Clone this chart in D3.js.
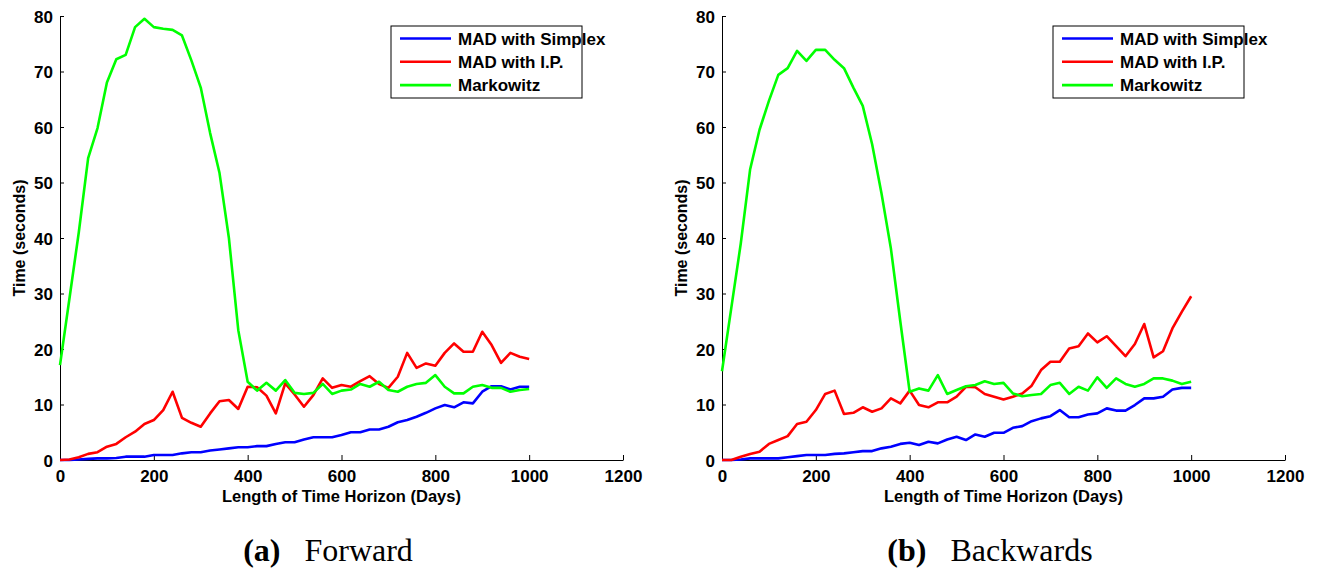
<!DOCTYPE html>
<html>
<head>
<meta charset="utf-8">
<script src="https://cdn.jsdelivr.net/npm/d3@7"></script>
<style>
body { margin: 0; background: #fff; }
.tick text { font-family: "Liberation Sans", Arial, sans-serif; font-weight: bold; font-size: 17px; fill: #000; }
</style>
</head>
<body>
<div id="chart"></div>
<script>
// horizon lengths (days)
const days = [0,20,40,60,80,100,120,140,160,180,200,220,240,260,280,300,320,340,360,380,
  400,420,440,460,480,500,520,540,560,580,600,620,640,660,680,700,720,740,760,780,
  800,820,840,860,880,900,920,940,960,980,1000];

// (a) forward
const fwdSimplex = [0,0,0.1,0.2,0.3,0.3,0.35,0.6,0.6,0.6,0.9,0.9,0.9,1.2,1.4,1.4,1.7,1.9,2.1,2.3,
  2.3,2.5,2.5,2.9,3.2,3.2,3.7,4.1,4.1,4.1,4.5,5.0,5.0,5.5,5.5,6.0,6.8,7.2,7.8,8.5,
  9.3,9.9,9.5,10.4,10.2,12.3,13.3,13.3,12.7,13.2,13.2];
const fwdIP = [0,0.1,0.5,1.1,1.4,2.4,2.9,4.1,5.1,6.5,7.2,9.0,12.3,7.6,6.7,6.0,8.4,10.6,10.8,9.2,
  13.2,13.1,11.6,8.4,13.8,11.8,9.6,11.7,14.7,13.0,13.5,13.2,14.2,15.1,13.7,13.0,15.0,19.3,16.6,17.4,
  17.0,19.3,21.0,19.5,19.5,23.1,20.7,17.5,19.3,18.6,18.2];
const fwdMarkowitz = [17.1,29,41,54.4,59.8,68,72.2,73,78,79.5,78,77.7,77.5,76.5,72,67.1,58.9,51.7,40,23.4,
  14.1,12.5,13.9,12.5,14.4,12.1,11.9,12.1,13.7,11.9,12.5,12.7,13.7,13.2,14.1,12.6,12.3,13.2,13.7,13.9,
  15.3,13.2,12.0,12.0,13.2,13.5,13.0,13.0,12.3,12.6,12.8];

// (b) backwards
const bwdSimplex = [0,0,0.1,0.3,0.3,0.3,0.3,0.5,0.7,0.9,0.9,0.9,1.1,1.2,1.4,1.6,1.6,2.1,2.4,2.9,
  3.1,2.7,3.3,3.0,3.7,4.2,3.6,4.6,4.2,4.9,4.9,5.8,6.1,7.0,7.5,7.9,9.0,7.7,7.7,8.2,
  8.4,9.3,8.9,8.9,9.9,11.1,11.1,11.4,12.7,13.0,13.0];
const bwdIP = [0,0,0.6,1.1,1.5,2.9,3.6,4.3,6.5,6.9,9.0,11.9,12.5,8.3,8.5,9.5,8.7,9.3,11.1,10.2,
  12.5,9.9,9.5,10.4,10.4,11.4,13.2,13.1,11.9,11.4,10.9,11.4,12.0,13.4,16.2,17.7,17.7,20.1,20.5,22.8,
  21.2,22.3,20.5,18.7,20.9,24.5,18.5,19.6,23.7,26.7,29.5];
const bwdMarkowitz = [16,27.5,39,52.4,59.5,64.7,69.4,70.6,73.7,71.9,73.9,73.9,72.1,70.6,67.1,63.8,56.9,48,38.1,25,
  12.3,12.9,12.5,15.3,11.9,12.6,13.3,13.5,14.2,13.7,13.9,12.0,11.5,11.7,11.9,13.5,13.9,11.9,13.2,12.5,
  14.9,13.0,14.7,13.7,13.2,13.7,14.7,14.7,14.3,13.7,14.1];

const seriesNames = ["MAD with Simplex", "MAD with I.P.", "Markowitz"];
const seriesColors = ["#0000ff", "#ff0000", "#00ff00"];
const xTicks = [0,200,400,600,800,1000,1200];
const yTicks = [0,10,20,30,40,50,60,70,80];

const W = 1319, H = 575;
const plotW = 563, plotTop = 16, plotBottom = 460;

const svg = d3.select("#chart").append("svg")
    .attr("width", W)
    .attr("height", H);

drawPanel(60, [fwdSimplex, fwdIP, fwdMarkowitz], "(a)", "Forward");
drawPanel(722, [bwdSimplex, bwdIP, bwdMarkowitz], "(b)", "Backwards");

function drawPanel(left, series, letter, caption) {
    const g = svg.append("g");

    const x = d3.scaleLinear().domain([0, 1200]).range([left, left + plotW]);
    const y = d3.scaleLinear().domain([0, 80]).range([plotBottom, plotTop]);

    // axes, ticks point inward like matlab
    g.append("g")
        .attr("transform", "translate(0," + plotBottom + ")")
        .call(d3.axisBottom(x).tickValues(xTicks).tickFormat(d3.format("d"))
            .tickSizeInner(-5).tickSizeOuter(0).tickPadding(12))
        .call(a => a.select(".domain").attr("stroke", "#000"));

    g.append("g")
        .attr("transform", "translate(" + left + ",0)")
        .call(d3.axisLeft(y).tickValues(yTicks).tickFormat(d3.format("d"))
            .tickSizeInner(-4).tickSizeOuter(0).tickPadding(7))
        .call(a => a.select(".domain").attr("stroke", "#000"));

    g.selectAll(".tick line").attr("stroke", "#000");

    // fix baseline of tick labels
    g.selectAll(".tick text").each(function () {
        const t = d3.select(this);
        if (t.attr("y") && +t.attr("y") > 0) t.attr("y", 22).attr("dy", null);
        else t.attr("dy", "0.36em");
    });

    const line = d3.line()
        .x((d, i) => x(days[i]))
        .y(d => y(d));

    series.forEach(function (s, k) {
        g.append("path")
            .datum(s)
            .attr("fill", "none")
            .attr("stroke", seriesColors[k])
            .attr("stroke-width", 2.6)
            .attr("stroke-linejoin", "round")
            .attr("d", line);
    });

    // axis titles
    g.append("text")
        .attr("x", left + plotW / 2)
        .attr("y", 502)
        .attr("text-anchor", "middle")
        .style("font-family", "Liberation Sans, Arial, sans-serif")
        .style("font-weight", "bold")
        .style("font-size", "16.5px")
        .text("Length of Time Horizon (Days)");

    g.append("text")
        .attr("transform", "translate(" + (left - 35) + "," + ((plotTop + plotBottom) / 2) + ") rotate(-90)")
        .attr("text-anchor", "middle")
        .style("font-family", "Liberation Sans, Arial, sans-serif")
        .style("font-weight", "bold")
        .style("font-size", "16px")
        .text("Time (seconds)");

    // legend
    const lx = left + 331, ly = 26;
    const lg = g.append("g").attr("transform", "translate(" + lx + "," + ly + ")");
    lg.append("rect")
        .attr("width", 191).attr("height", 72)
        .attr("fill", "#fff").attr("stroke", "#000").attr("stroke-width", 1);
    seriesNames.forEach(function (name, k) {
        const yy = 12.5 + k * 23.3;
        lg.append("line")
            .attr("x1", 9).attr("x2", 60)
            .attr("y1", yy).attr("y2", yy)
            .attr("stroke", seriesColors[k]).attr("stroke-width", 2.6);
        lg.append("text")
            .attr("x", 67).attr("y", yy + 6)
            .style("font-family", "Liberation Sans, Arial, sans-serif")
            .style("font-weight", "bold")
            .style("font-size", "17px")
            .text(name);
    });

    // sub-figure caption, centred under the panel
    const cap = svg.append("text")
        .attr("y", 561)
        .style("font-family", "Liberation Serif, 'Times New Roman', serif")
        .style("font-size", "32px");
    cap.append("tspan").style("font-weight", "bold").text(letter);
    cap.append("tspan").attr("dx", 24).text(caption);
    const w = cap.node().getBBox().width;
    cap.attr("x", left + 268 - w / 2);
}
</script>
</body>
</html>
